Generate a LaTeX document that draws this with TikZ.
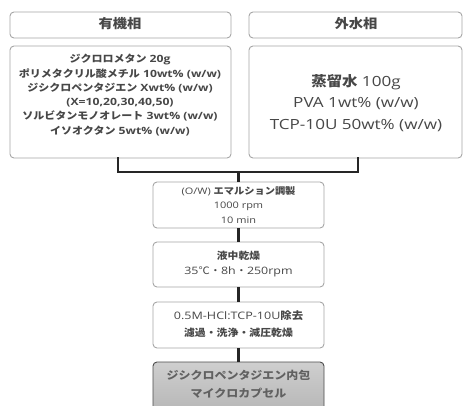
\documentclass[tikz,border=0pt]{standalone}
\usepackage{fontspec}
\setmainfont{Open Sans}[FakeStretch=1.22]
\newfontfamily\jpf{Noto Sans CJK JP}[FakeStretch=1.1]
\newcommand\J[1]{{\jpf #1}}
\newcommand\JB[1]{{\jpf\bfseries #1}}
\begin{document}
\begin{tikzpicture}[x=1pt,y=-1pt,
  box/.style={draw=gray!70, line width=0.9pt, rounded corners=4pt, fill=white},
  pbox/.style={box, minimum width=171pt, inner sep=0pt},
  conn/.style={draw=black!85, line width=2.6pt},
  txt/.style={align=center, text=black!72, inner sep=0pt},
]
\useasboundingbox (0,0) rectangle (465,405);
\fill[white] (0,0) rectangle (465,405);
% header boxes
\draw[box] (10,12) rectangle (231,38);
\draw[box] (249,12) rectangle (462,38);
\node[txt, font=\fontsize{13}{15}\selectfont] (h1) at (120,24) {\JB{有機相}};
\node[txt, font=\fontsize{13}{15}\selectfont] (h2) at (356,24) {\JB{外水相}};
% content boxes
\draw[box] (10,46) rectangle (231,158);
\draw[box] (249,46) rectangle (462,158);
\coordinate (lb) at (118,158);
\coordinate (rb) at (358,158);
\node[txt, font=\fontsize{10}{14.3}\selectfont\bfseries] (c1) at (120,95)
  {\JB{ジクロロメタン} 20g\\
   \JB{ポリメタクリル酸メチル} 10wt\% (w/w)\\
   \JB{ジシクロペンタジエン} Xwt\% (w/w)\\
   (X=10,20,30,40,50)\\
   \JB{ソルビタンモノオレート} 3wt\% (w/w)\\
   \JB{イソオクタン} 5wt\% (w/w)};
\node[txt, font=\fontsize{14}{21.5}\selectfont] (c2) at (356,103)
  {{\fontsize{14}{21.5}\selectfont\JB{蒸留水}} 100g\\
   PVA 1wt\% (w/w)\\
   TCP-10U 50wt\% (w/w)};
% process boxes
\node[pbox, minimum height=46pt] (b1) at (238.5,205) {};
\node[txt, font=\fontsize{9}{14.5}\selectfont] (t1) at (238.5,205)
  {(O/W) {\fontsize{9.3}{14.5}\selectfont\JB{エマルション調製}}\\1000 rpm\\10 min};
\node[pbox, minimum height=45pt] (b2) at (238.5,264.5) {};
\node[txt, font=\fontsize{10.2}{15}\selectfont] (t2) at (238.5,264.5)
  {{\fontsize{9.8}{15}\selectfont\JB{液中乾燥}}\\35\J{℃・}8h\J{・}250rpm};
\node[pbox, minimum height=46pt] (b3) at (238.5,325) {};
\node[txt, font=\fontsize{10.3}{17}\selectfont] (t3) at (238.5,324)
  {0.5M-HCl:TCP-10U\JB{除去}\\{\fontsize{9.9}{17}\selectfont\JB{濾過・洗浄・減圧乾燥}}};
\draw[draw=black!70, line width=0.9pt, rounded corners=4pt, top color=gray!38, bottom color=gray!60] (153,362) rectangle (324,420);
\node[txt, font=\fontsize{10.9}{18}\selectfont, text=black!62] (b4) at (238.5,384)
  {\JB{ジシクロペンタジエン内包}\\\JB{マイクロカプセル}};
% connectors
\coordinate (jn) at (238.5,172);
\coordinate (b4top) at (238.5,362);
\draw[conn, line cap=rect] (lb) -- (lb |- jn) -- (rb |- jn) -- (rb);
\draw[conn] (jn) -- (b1.north);
\draw[conn] (b1.south) -- (b2.north);
\draw[conn] (b2.south) -- (b3.north);
\draw[conn] (b3.south) -- (b4top);
\end{tikzpicture}
\end{document}
